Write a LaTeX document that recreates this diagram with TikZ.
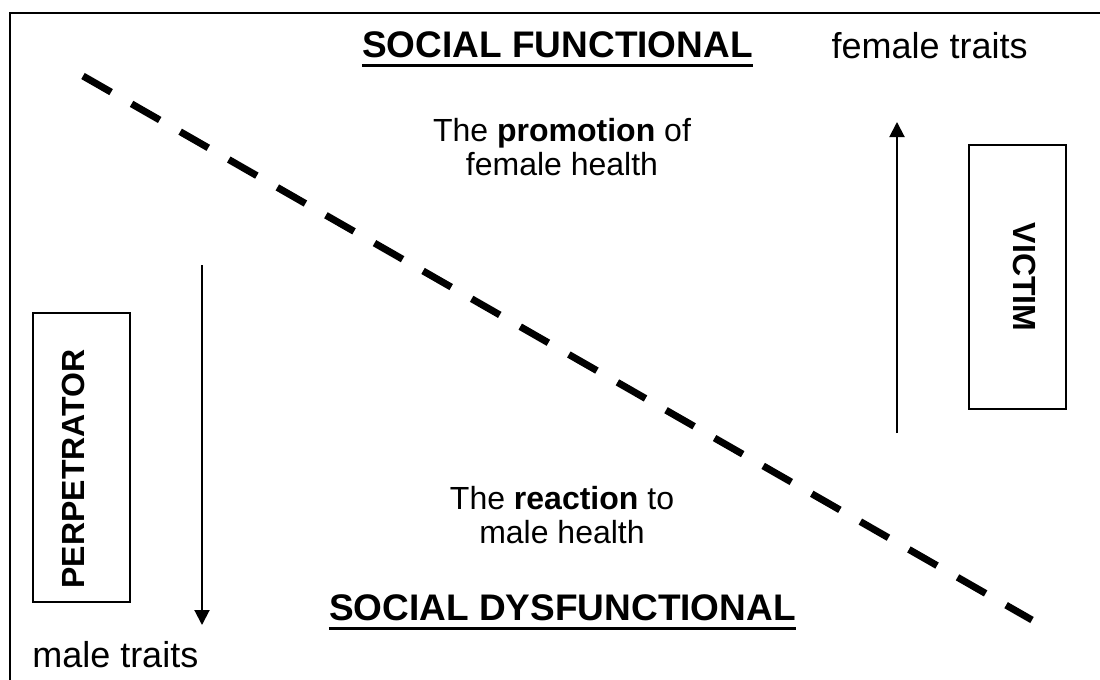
\documentclass[tikz,border=0pt]{standalone}
\usepackage{fontspec}
\setmainfont{Liberation Sans}
\usetikzlibrary{arrows.meta}
\begin{document}
\begin{tikzpicture}[x=0.75pt,y=-0.75pt,
  frameline/.style={line width=1.5pt, line cap=rect},
  header/.style={font=\fontsize{27.75}{33}\selectfont\bfseries, inner sep=0pt},
  headrule/.style={line width=2.2pt},
  trait/.style={font=\fontsize{27}{32}\selectfont, inner sep=0pt},
  midtext/.style={font=\fontsize{24}{25.5}\selectfont, align=center, inner sep=0pt},
  boxstyle/.style={draw, line width=1.4pt, minimum width=72.75pt, inner sep=0pt},
  boxlabel/.style={font=\fontsize{24}{28}\selectfont\bfseries, inner sep=0pt},
  arrowline/.style={line width=1.5pt, -{Triangle[length=11.25pt,width=11.25pt]}},
  divider/.style={line width=5.25pt, dash pattern=on 24.3pt off 17.7pt}]
\useasboundingbox (0,0) rectangle (1100,679);
\fill[white] (0,0) rectangle (1100,679);
% frame (cropped at right and bottom)
\draw[frameline] (9.5,679) -- (9.5,13) -- (1100,13);
% dashed divider
\coordinate (ds) at (83,76);
\coordinate (de) at (1032,620);
\draw[divider] (ds) -- (de);
% headers
\node[header, anchor=base] (sf) at (557.5,57) {SOCIAL FUNCTIONAL};
\draw[headrule] ([yshift=-6.4pt]sf.base west) -- ([yshift=-6.4pt]sf.base east);
\node[header, anchor=base] (sd) at (562.5,620) {SOCIAL DYSFUNCTIONAL};
\draw[headrule] ([yshift=-6.4pt]sd.base west) -- ([yshift=-6.4pt]sd.base east);
% traits
\node[trait, anchor=base east] (ft) at (1028,58) {female traits};
\node[trait, anchor=base west] (mt) at (32,667) {male traits};
% middle texts
\node[midtext] (prom) at (562,147) {The \textbf{promotion} of\\female health};
\node[midtext] (reac) at (562,515) {The \textbf{reaction} to\\male health};
% boxes
\node[boxstyle, minimum height=198pt] (vbox) at (1017.5,277) {};
\node[boxlabel, rotate=-90] (vlabel) at (1025,277) {VICTIM};
\node[boxstyle, minimum height=216.75pt] (pbox) at (81.5,457.5) {};
\node[boxlabel, rotate=90] (plabel) at (73.5,469) {PERPETRATOR};
% arrows
\coordinate (la1) at (202,265);
\coordinate (la2) at (202,625);
\draw[arrowline] (la1) -- (la2);
\coordinate (ra1) at (897,433);
\coordinate (ra2) at (897,122);
\draw[arrowline] (ra1) -- (ra2);
\end{tikzpicture}
\end{document}
